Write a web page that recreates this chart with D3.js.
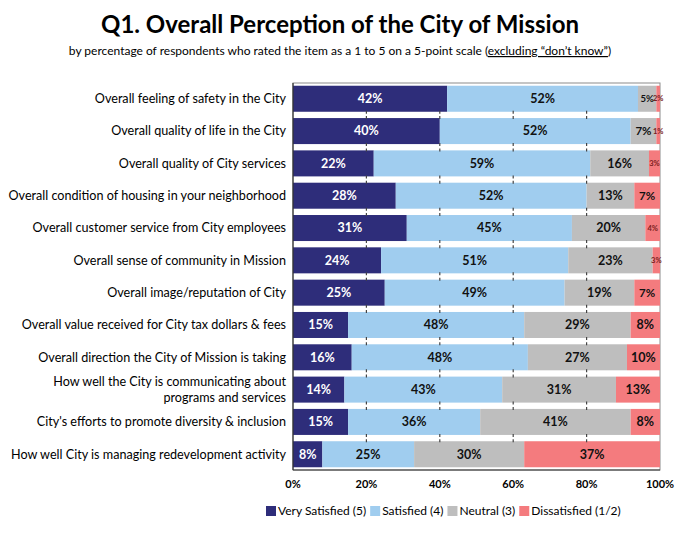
<!DOCTYPE html>
<html>
<head>
<meta charset="utf-8">
<script src="https://cdn.jsdelivr.net/npm/d3@7"></script>
<style>
  body { margin: 0; background: #fff; }
  text { font-family: Lato, "Open Sans", sans-serif; }
</style>
</head>
<body>
<div id="chart"></div>
<script>
// survey items, top to bottom
var items = [
  ['Overall feeling of safety in the City'],
  ['Overall quality of life in the City'],
  ['Overall quality of City services'],
  ['Overall condition of housing in your neighborhood'],
  ['Overall customer service from City employees'],
  ['Overall sense of community in Mission'],
  ['Overall image/reputation of City'],
  ['Overall value received for City tax dollars & fees'],
  ['Overall direction the City of Mission is taking'],
  ['How well the City is communicating about', 'programs and services'],
  ["City's efforts to promote diversity & inclusion"],
  ['How well City is managing redevelopment activity']
];
var verySatisfied = [42, 40, 22, 28, 31, 24, 25, 15, 16, 14, 15, 8];
var satisfied     = [52, 52, 59, 52, 45, 51, 49, 48, 48, 43, 36, 25];
var neutral       = [5, 7, 16, 13, 20, 23, 19, 29, 27, 31, 41, 30];
var dissatisfied  = [2, 1, 3, 7, 4, 3, 7, 8, 10, 13, 8, 37];
var seriesNames = ['Very Satisfied (5)', 'Satisfied (4)', 'Neutral (3)', 'Dissatisfied (1/2)'];
var tickValues = [0, 20, 40, 60, 80, 100];

var colors = ['#2e2d7a', '#a0cdef', '#bebebe', '#f47b7e'];

var W = 686, H = 534;
var plotL = 293, plotR = 660, plotT = 83, plotB = 470;

var svg = d3.select('#chart').append('svg')
  .attr('width', W).attr('height', H);

// title
svg.append('text')
  .attr('x', 340).attr('y', 33)
  .attr('text-anchor', 'middle')
  .style('font-size', '24px').style('font-weight', 'bold')
  .text('Q1. Overall Perception of the City of Mission');

var sub = svg.append('text')
  .attr('x', 340).attr('y', 55)
  .attr('text-anchor', 'middle')
  .style('font-size', '12px');
sub.append('tspan').text('by percentage of respondents who rated the item as a 1 to 5 on a 5-point scale (');
sub.append('tspan').style('text-decoration', 'underline').text('excluding \u201cdon\u2019t know\u201d');
sub.append('tspan').text(')');

var keys = items.map(function (d, i) { return i; });
var rows = keys.map(function (i) {
  return { i: i, values: [verySatisfied[i], satisfied[i], neutral[i], dissatisfied[i]] };
});

var x = d3.scaleLinear().domain([0, 100]).range([plotL, plotR]);
var y = d3.scaleBand().domain(keys).range([plotT, plotB])
  .paddingInner(0.195).paddingOuter(0.085);

var stack = d3.stack().keys([0, 1, 2, 3]).value(function (d, k) { return d.values[k]; });
var layers = stack(rows);

svg.append('clipPath').attr('id', 'plotclip')
  .append('rect').attr('x', plotL).attr('y', plotT)
  .attr('width', plotR - plotL).attr('height', plotB - plotT);

// plot frame
svg.append('rect')
  .attr('x', plotL).attr('y', plotT)
  .attr('width', plotR - plotL).attr('height', plotB - plotT)
  .attr('fill', 'none').attr('stroke', '#8c8c8c').attr('stroke-width', 1);

var plot = svg.append('g').attr('clip-path', 'url(#plotclip)');

layers.forEach(function (layer, k) {
  var g = plot.append('g');
  g.selectAll('rect').data(layer).enter().append('rect')
    .attr('x', function (d) { return x(d[0]); })
    .attr('y', function (d) { return y(d.data.i); })
    .attr('width', function (d) { return x(d[1]) - x(d[0]); })
    .attr('height', y.bandwidth())
    .attr('fill', colors[k]);
});

// little gridline ticks showing in the gaps
var gaps = keys.slice(1).map(function (i) { return y(i); });
var tickG = svg.append('g');
gaps.forEach(function (gy) {
  var gTop = gy - y.step() + y.bandwidth();
  [20, 40, 60, 80].forEach(function (t) {
    tickG.append('line')
      .attr('x1', x(t)).attr('x2', x(t))
      .attr('y1', gTop - 1).attr('y2', gTop + 2)
      .attr('stroke', '#444').attr('stroke-width', 1.2);
    tickG.append('line')
      .attr('x1', x(t)).attr('x2', x(t))
      .attr('y1', gy - 2).attr('y2', gy + 1)
      .attr('stroke', '#444').attr('stroke-width', 1.2);
  });
});

// value labels
layers.forEach(function (layer, k) {
  svg.append('g').selectAll('text').data(layer).enter().append('text')
    .attr('x', function (d) { return x((d[0] + Math.min(d[1], 100)) / 2); })
    .attr('y', function (d) { return y(d.data.i) + y.bandwidth() / 2; })
    .attr('dy', '0.35em')
    .attr('text-anchor', 'middle')
    .style('font-weight', 'bold')
    .style('font-size', function (d) {
      var v = d[1] - d[0];
      return v < 5 ? '7.5px' : (v < 7 ? '9.5px' : (v < 8 ? '11.5px' : '12.5px'));
    })
    .attr('fill', function (d) {
      if (k === 0) return '#fff';
      if (k === 3 && d[1] - d[0] < 5) return '#7a2020';
      return '#111';
    })
    .text(function (d) { return (d[1] - d[0]) + '%'; });
});

// axes lines
svg.append('line').attr('x1', plotL).attr('x2', plotL).attr('y1', plotT).attr('y2', plotB)
  .attr('stroke', '#333').attr('stroke-width', 1.2);
svg.append('line').attr('x1', plotL).attr('x2', plotR).attr('y1', plotB).attr('y2', plotB)
  .attr('stroke', '#333').attr('stroke-width', 1.2);

// x tick labels
svg.append('g').selectAll('text').data(tickValues).enter().append('text')
  .attr('x', function (d) { return x(d); })
  .attr('y', 488)
  .attr('text-anchor', 'middle')
  .style('font-size', '11px').style('font-weight', 'bold')
  .text(function (d) { return d + '%'; });

// category labels
svg.append('g').selectAll('text').data(keys).enter().append('text')
  .attr('text-anchor', 'end')
  .attr('x', 286)
  .attr('y', function (i) { return y(i) + y.bandwidth() / 2; })
  .style('font-size', '12.6px')
  .each(function (i) {
    var lines = items[i];
    var el = d3.select(this);
    lines.forEach(function (t, j) {
      el.append('tspan')
        .attr('x', 286)
        .attr('dy', j === 0 ? (0.35 - (lines.length - 1) * 0.6) + 'em' : '1.2em')
        .text(t);
    });
  });

// legend
var legend = svg.append('g').attr('transform', 'translate(266,511)');
var lx = 0;
seriesNames.forEach(function (name, k) {
  legend.append('rect').attr('x', lx).attr('y', -5).attr('width', 10).attr('height', 10)
    .attr('fill', colors[k]);
  var t = legend.append('text').attr('x', lx + 12).attr('y', 0).attr('dy', '0.35em')
    .style('font-size', '12px').text(name);
  lx += 12 + t.node().getComputedTextLength() + 4;
});
</script>
</body>
</html>
